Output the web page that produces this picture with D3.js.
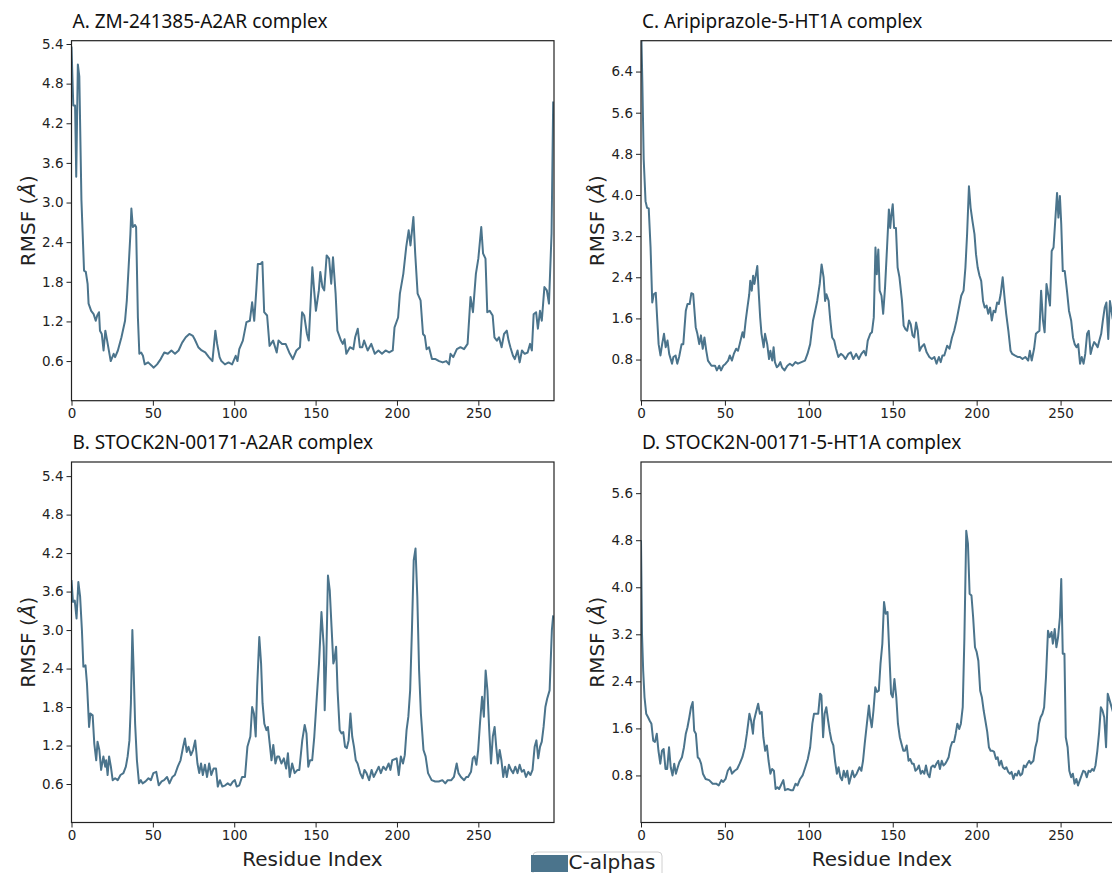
<!DOCTYPE html>
<html>
<head>
<meta charset="utf-8">
<script src="https://cdn.jsdelivr.net/npm/d3@7"></script>
<style>
  body { margin: 0; background: #fff; }
  svg { display: block; }
</style>
</head>
<body>
<div id="chart"></div>
<script>
// residue index / RMSF (Å) pairs
var rmsfA = [[0,5.36],[1.1,4.47],[2.2,4.47],[2.9,3.39],[3.9,5.09],[4.8,4.91],[6.1,3.04],[7.7,1.97],[8.8,1.95],[9.9,1.77],[10.5,1.47],[12.1,1.36],[13.6,1.31],[14.9,1.21],[15.8,1.29],[16.9,1.34],[17.5,1.06],[18.6,1.01],[19.7,0.76],[20.8,1.06],[21.9,0.91],[24.1,0.6],[25.9,0.71],[26.8,0.66],[28.5,0.76],[30.7,0.96],[32.9,1.21],[34,1.52],[35.1,2.02],[36.2,2.53],[36.8,2.91],[37.7,2.63],[39,2.66],[39.7,2.63],[40.8,1.26],[41.7,0.71],[42.8,0.73],[43.9,0.68],[45,0.55],[47.1,0.58],[49.3,0.53],[50.4,0.5],[52.6,0.55],[54.8,0.63],[57,0.73],[59.2,0.71],[61.4,0.76],[63.6,0.71],[65.8,0.76],[68,0.88],[70.2,0.96],[72.4,1.01],[74.6,0.98],[75.7,0.93],[77.9,0.81],[80,0.76],[82.2,0.73],[84.4,0.66],[86.6,0.6],[88.4,1.06],[89.5,0.86],[91,0.66],[92.1,0.6],[94.3,0.55],[96.5,0.58],[98.7,0.55],[100.9,0.68],[102,0.6],[103.1,0.78],[105.3,0.91],[107.5,1.19],[109.6,1.21],[111,1.49],[112.3,1.21],[113.6,1.69],[114.5,2.07],[116.2,2.07],[117.3,2.1],[118.4,1.34],[120.2,1.29],[121.7,0.83],[123.9,0.91],[126.1,0.73],[127.2,0.91],[129.4,0.86],[131.6,0.86],[133.8,0.73],[136,0.63],[138.2,0.76],[140.4,0.81],[141.7,1.34],[143,1.29],[144.7,1.01],[145.8,0.91],[148,2.02],[149.1,1.67],[150.2,1.36],[152,1.67],[152.9,1.95],[154.2,1.72],[155.3,1.67],[156.8,2.2],[158.3,2.15],[159.6,1.77],[160.7,2.17],[162.3,1.62],[163.4,1.06],[165.6,0.91],[166.7,0.86],[167.8,0.93],[168.9,0.71],[171.1,0.81],[173.2,0.78],[174.3,0.96],[175.9,1.09],[177.2,0.81],[178.7,0.81],[179.8,0.91],[182,0.76],[184.2,0.86],[186.4,0.71],[188.6,0.76],[190.8,0.71],[193,0.76],[195.2,0.73],[197.4,0.76],[198.5,1.11],[200.7,1.26],[201.8,1.62],[203.9,1.92],[205.7,2.33],[207.2,2.58],[208.3,2.35],[210.1,2.78],[211.2,2.23],[212.7,1.62],[214.5,1.52],[216,1.01],[217.1,0.98],[218.2,0.78],[219.7,0.81],[221.5,0.63],[223.7,0.63],[225.9,0.6],[228.1,0.58],[230.3,0.6],[232,0.55],[232.9,0.71],[234.6,0.66],[236.8,0.78],[239,0.81],[241.2,0.78],[243.4,0.86],[245.2,1.57],[246.7,1.34],[248.5,1.92],[250,2.15],[251.8,2.63],[252.9,2.23],[254.4,2.15],[255.5,1.34],[257,1.36],[258.8,1.29],[259.9,0.96],[261.4,0.91],[262.7,0.96],[264.3,0.81],[265.8,1.01],[267.5,1.06],[268.6,0.91],[269.7,0.81],[271.3,0.68],[272.4,0.63],[274.1,0.76],[275.4,0.58],[276.8,0.76],[278.5,0.71],[280.3,0.73],[281.8,0.86],[282.9,0.76],[284,1.31],[285.5,1.34],[286.6,1.09],[287.9,1.36],[289,1.21],[290.6,1.72],[292.1,1.67],[293.4,1.47],[295,2.53],[296,4.53]];

var rmsfB = [[0,3.78],[0.9,3.44],[2,3.46],[3.1,3.18],[4.2,3.75],[5.3,3.52],[6.4,3.0],[7.3,2.43],[8.6,2.45],[9.5,2.17],[10.8,1.49],[11.6,1.7],[13,1.67],[14,1.23],[15.2,0.97],[16,1.26],[17.1,1.13],[18.2,0.82],[19.6,1.03],[20.7,0.87],[21.3,0.97],[22.2,0.74],[23.1,1.03],[24.2,0.87],[25.3,0.66],[26.8,0.69],[28.4,0.66],[30.1,0.74],[31.9,0.77],[33.4,0.87],[34.5,1.03],[35.6,1.28],[36.5,1.86],[37.4,3.0],[38.2,2.37],[39.1,1.54],[40.2,0.97],[41.5,0.61],[42.6,0.66],[43.7,0.61],[45.5,0.64],[47.3,0.69],[48.8,0.66],[50.3,0.77],[52.1,0.79],[53.6,0.58],[55.4,0.64],[56.9,0.66],[58.7,0.71],[60.2,0.61],[62,0.71],[63.5,0.74],[65.3,0.87],[67,0.97],[68.6,1.18],[69.7,1.31],[70.8,1.1],[71.9,1.18],[73.4,1.05],[74.7,1.13],[76,1.28],[77.4,0.92],[78.5,0.77],[79.6,0.92],[80.7,0.74],[82,0.9],[83.3,0.71],[84.6,0.92],[85.9,0.74],[87.3,0.84],[88.8,0.84],[89.9,0.56],[91.2,0.66],[92.7,0.56],[94.5,0.58],[96,0.61],[97.6,0.58],[99.3,0.64],[100.4,0.66],[101.5,0.56],[103.1,0.58],[104.8,0.71],[106.6,0.71],[108.1,1.18],[109.9,1.34],[111,1.8],[112.1,1.7],[113.2,1.34],[114.1,2.12],[115.4,2.89],[116.5,2.48],[117.4,1.86],[118.5,1.54],[119.8,1.44],[120.7,1.49],[121.8,1.23],[122.9,0.97],[124,1.21],[125.3,0.92],[126.4,1.03],[127.5,1.03],[129,0.92],[130.5,1.0],[131.9,0.84],[133,1.08],[134.1,0.71],[135.6,0.92],[137.1,0.77],[138.9,0.82],[140,0.82],[141.8,1.28],[143.3,1.52],[144.4,1.39],[145.5,0.87],[146.6,0.97],[147.9,0.97],[149.2,1.34],[150.5,1.86],[152.1,2.48],[153.6,3.28],[155,2.74],[155.6,1.75],[156.5,2.48],[157.6,3.85],[158.7,3.62],[159.8,3.05],[160.9,2.48],[161.5,2.53],[162.6,2.74],[163.5,2.06],[164.8,1.44],[165.9,1.39],[167,1.41],[168.1,1.18],[169.2,1.16],[170.3,1.28],[171.4,1.7],[172.5,1.34],[173.6,1.18],[174.7,0.97],[175.8,0.92],[177.4,0.77],[178.9,0.69],[180,0.82],[181.3,0.77],[182.9,0.66],[184.4,0.82],[185.7,0.71],[187.3,0.79],[188.8,0.87],[190.1,0.77],[191.6,0.87],[193.2,0.82],[194.9,0.92],[196,0.82],[197.1,0.97],[199.8,1.0],[201.1,0.74],[202.4,1.03],[203.7,0.92],[204.8,1.05],[205.9,1.44],[207,1.65],[208.1,2.06],[209.2,3.0],[210.3,4.09],[211.4,4.27],[212.5,3.52],[213.6,2.37],[214.7,1.7],[216.3,1.13],[217.6,1.03],[219.1,0.77],[221.3,0.66],[223.5,0.64],[225.7,0.64],[227.9,0.66],[229.7,0.61],[231.2,0.66],[233.4,0.66],[235,0.71],[236.7,0.92],[237.8,0.77],[239.3,0.71],[241.3,0.66],[242.6,0.71],[243.7,0.71],[245.5,0.79],[246.6,1.0],[247.7,1.03],[248.8,0.9],[249.9,1.13],[251,1.54],[252.3,1.96],[253.4,1.65],[254.5,2.37],[255.6,2.06],[256.7,1.44],[257.8,0.92],[258.9,1.34],[260,1.49],[261,1.18],[262,0.92],[263.1,1.13],[264.2,0.97],[265.3,0.71],[266.4,0.87],[267.5,0.71],[268.8,0.9],[270.1,0.82],[271.4,0.77],[272.7,0.87],[274.1,0.77],[275.4,0.9],[276.7,0.79],[278,0.82],[279.3,0.71],[280.7,0.79],[282,0.74],[283.3,0.82],[284.6,1.18],[285.7,1.28],[286.8,1.0],[287.9,1.18],[289,1.26],[290.1,1.49],[291.2,1.8],[292.3,1.93],[293.8,2.06],[295.2,3.0],[296,3.23]];

var rmsfC = [[0,7.4],[0.8,6.2],[1.6,4.7],[2.7,3.88],[3.6,3.75],[4.6,3.74],[5.7,2.98],[6.7,1.91],[7.6,2.07],[8.8,2.1],[9.7,1.56],[10.5,1.1],[11.6,0.88],[12.6,1.1],[13.7,1.3],[14.7,1.04],[15.8,1.17],[16.8,0.91],[18.5,0.72],[19.3,0.85],[20.6,0.88],[21.6,0.72],[22.7,0.85],[24.2,1.1],[25.2,1.1],[26.7,1.75],[27.7,1.88],[29,1.88],[30,2.09],[31.1,2.07],[32.6,1.43],[33.6,1.3],[34.7,1.1],[35.7,1.27],[36.8,1.01],[37.8,1.23],[38.9,0.97],[39.9,0.78],[42,0.68],[44.1,0.68],[45.2,0.59],[46.6,0.68],[47.7,0.59],[49,0.68],[50.4,0.72],[51.9,0.78],[52.9,0.88],[54.2,0.78],[55.3,0.91],[56.7,1.01],[57.8,0.97],[58.8,1.1],[60.5,1.33],[61.3,1.23],[62.4,1.56],[63.4,1.81],[64.5,2.07],[65.1,2.33],[66,2.14],[66.8,2.43],[67.6,2.27],[68.5,2.46],[69.3,2.62],[70.2,2.07],[71,1.62],[71.8,1.3],[73.1,1.04],[73.9,1.3],[75.2,1.1],[76.3,0.81],[77.1,0.97],[78.2,0.78],[79,1.04],[79.8,0.75],[80.9,0.65],[81.9,0.68],[83,0.75],[84,0.65],[85.5,0.59],[87.2,0.68],[88.7,0.72],[90.3,0.68],[92,0.75],[93.5,0.72],[95.6,0.75],[97.7,0.78],[99.2,0.91],[100.8,1.1],[102.5,1.56],[103.8,1.75],[105,1.94],[106.5,2.27],[107.6,2.65],[108.8,2.4],[109.7,1.94],[110.5,2.07],[111.8,1.94],[112.8,1.56],[113.9,1.23],[115.1,1.17],[116.2,1.01],[117.6,0.85],[119.1,0.91],[120.4,0.88],[121.8,0.81],[123.5,0.91],[125,0.94],[126.5,0.81],[128.2,0.91],[129.8,0.81],[131.3,0.91],[132.8,0.97],[134,0.88],[135.1,1.17],[136.6,1.3],[137.6,1.33],[138.7,1.62],[139.7,2.98],[140.5,2.46],[141.4,2.94],[142.2,2.14],[143.3,2.04],[144.3,1.69],[145.4,2.2],[146.6,2.98],[147.7,3.72],[148.5,3.36],[149.2,3.62],[150,3.82],[150.8,3.36],[151.9,3.36],[152.9,2.59],[154,2.4],[155.5,1.94],[156.5,1.46],[157.6,1.39],[158.6,1.36],[159.7,1.56],[160.7,1.49],[161.8,1.27],[162.8,1.23],[163.9,1.52],[164.9,1.36],[166,0.97],[167,1.04],[168.7,1.1],[170.2,0.94],[171.8,0.85],[173.3,0.81],[174.8,0.85],[176.1,0.72],[177.5,0.85],[178.6,0.75],[179.6,0.88],[180.7,0.88],[182.4,1.07],[183.8,1.01],[185.3,1.23],[186.6,1.36],[188,1.56],[189.1,1.75],[190.8,2.04],[192.2,2.14],[193.3,2.59],[194.3,3.24],[195.4,4.17],[196.4,3.75],[197.5,3.49],[198.7,3.24],[199.6,2.85],[200.6,2.59],[201.7,2.43],[202.7,2.33],[203.8,1.94],[204.8,1.81],[205.9,1.85],[206.9,1.69],[208,1.81],[209,1.56],[210.1,1.75],[211.1,1.72],[212.2,1.91],[213.2,1.88],[214.3,2.07],[215.5,2.4],[216.8,1.94],[217.6,1.69],[218.9,1.36],[220.2,0.97],[221.2,0.91],[222.7,0.88],[224.4,0.85],[225.8,0.85],[227.3,0.81],[229,0.85],[230.7,0.78],[231.7,0.97],[232.8,0.78],[234.2,1.01],[235.3,1.3],[236.3,1.33],[237.4,1.36],[238.4,2.14],[239.5,1.56],[240.5,1.33],[241.6,2.27],[242.6,2.07],[243.7,1.85],[244.7,2.91],[245.8,2.98],[246.8,3.49],[247.9,4.04],[248.7,3.56],[249.6,3.98],[250.4,3.43],[251.3,2.52],[252.5,2.52],[253.8,2.14],[255,1.75],[256.3,1.56],[257.4,1.23],[258.4,1.1],[259.5,1.04],[260.5,1.1],[261.6,0.72],[262.6,0.85],[263.7,0.72],[264.7,0.91],[265.8,1.3],[266.8,1.36],[267.9,0.91],[268.9,1.04],[270,1.14],[271,1.1],[272.1,1.04],[273.1,1.17],[274.2,1.3],[275.2,1.56],[276.3,1.81],[277.3,1.91],[278.4,1.2],[279.4,1.94],[281,1.6],[283,1.4],[285,1.3]];

var rmsfD = [[0,4.8],[0.6,3.2],[1.3,2.58],[2.1,2.13],[3.1,1.85],[4.2,1.79],[5.2,1.73],[6.2,1.68],[7.3,1.39],[8.3,1.37],[9.4,1.51],[10.4,1.22],[11.5,1.0],[12.5,1.22],[13.5,1.25],[14.6,0.91],[15.6,0.91],[16.7,1.28],[17.7,0.94],[18.8,0.8],[19.8,1.0],[20.8,0.83],[21.9,0.94],[22.9,1.03],[24.4,1.11],[25.6,1.28],[26.7,1.51],[27.7,1.62],[28.8,1.79],[29.8,1.96],[30.8,2.05],[31.7,1.56],[32.7,1.51],[33.8,1.11],[34.8,1.08],[35.8,1.0],[36.9,0.83],[38.5,0.74],[40.6,0.72],[42.7,0.66],[44.8,0.66],[46.3,0.63],[47.9,0.72],[49,0.69],[50.4,0.74],[51.7,0.88],[53.1,0.94],[54.2,0.83],[55.8,0.88],[57.3,0.91],[58.8,1.0],[60.4,1.11],[61.9,1.28],[63.1,1.51],[64.6,1.85],[65.6,1.73],[66.7,1.51],[67.3,1.73],[68.3,1.85],[69.8,2.02],[70.8,1.85],[71.9,1.88],[72.9,1.45],[74,1.22],[75,1.31],[76,1.05],[77.1,0.83],[78.1,0.91],[79.2,0.88],[80.2,0.57],[81.3,0.6],[82.3,0.57],[83.3,0.63],[84.8,0.72],[85.8,0.55],[87.5,0.57],[89.2,0.55],[90.6,0.55],[92.1,0.66],[93.3,0.63],[94.8,0.74],[96.3,0.8],[97.9,0.94],[99.4,1.08],[100.8,1.28],[102.1,1.68],[103.1,1.85],[104.2,1.85],[105.6,1.85],[106.7,2.19],[107.5,2.16],[108.5,1.45],[109.4,1.85],[110.4,1.96],[111.5,1.73],[112.5,1.54],[113.5,1.39],[114.6,1.31],[115.6,1.05],[116.7,0.83],[117.7,0.94],[118.8,0.77],[119.8,0.72],[120.8,0.88],[121.9,0.77],[122.9,0.88],[124,0.66],[125,0.77],[126,0.88],[127.1,0.77],[128.5,0.83],[130.2,0.94],[131.3,0.88],[132.3,1.05],[133.3,1.34],[134.6,1.68],[135.8,1.99],[136.5,1.79],[137.5,1.62],[138.5,1.9],[139.6,2.3],[140.6,2.22],[141.7,2.24],[142.7,2.7],[143.8,3.04],[144.8,3.75],[145.8,3.55],[146.9,3.58],[147.9,2.92],[149,2.19],[150,2.13],[151,2.44],[152.1,2.13],[153.1,1.68],[154.2,1.45],[155.2,1.34],[156.3,1.22],[157.3,1.22],[158.3,1.31],[159.4,1.05],[160.4,1.08],[161.5,1.0],[162.5,1.0],[163.5,0.88],[164.6,0.91],[165.6,0.97],[166.7,0.83],[167.7,0.88],[168.8,0.83],[169.8,0.97],[170.8,0.83],[171.9,0.77],[172.9,0.94],[174,0.97],[175,0.94],[176,1.0],[177.1,1.05],[178.1,0.91],[179.2,1.05],[180.2,0.97],[181.3,1.0],[182.3,1.05],[183.3,1.11],[184.4,1.28],[185.4,1.37],[186.5,1.37],[187.5,1.51],[188.5,1.68],[189.6,1.59],[190.6,1.68],[191.7,1.96],[192.7,3.15],[193.8,4.96],[194.8,4.74],[195.8,3.89],[196.9,3.86],[197.9,3.49],[199,2.98],[200,2.9],[201,2.75],[202.1,2.24],[203.1,2.13],[204.2,1.9],[205.2,1.73],[206.3,1.54],[207.3,1.28],[208.3,1.22],[209.4,1.22],[210.4,1.2],[211.5,1.08],[212.5,1.11],[213.5,0.97],[214.6,1.05],[215.6,0.94],[216.7,0.91],[217.7,0.94],[218.8,0.86],[219.8,0.83],[220.8,0.86],[221.9,0.74],[222.9,0.83],[224,0.8],[225,0.88],[226,0.8],[227.1,0.83],[228.1,0.97],[229.2,0.94],[230.2,1.0],[231.3,1.05],[232.3,1.0],[233.8,1.05],[235,1.28],[236,1.39],[237.1,1.68],[238.1,1.79],[239.2,1.85],[240.2,1.96],[241.3,2.47],[242.5,3.26],[243.5,3.15],[244.6,3.24],[245.4,3.04],[246.5,3.29],[247.5,2.98],[248.5,3.15],[249.6,3.49],[250.4,4.14],[251.3,2.87],[252.3,2.87],[253.1,1.45],[254.2,1.28],[255.2,0.88],[256.3,0.77],[257.3,0.83],[258.3,0.66],[259.4,0.74],[260.4,0.63],[261.5,0.72],[262.5,0.8],[263.5,0.88],[264.6,0.86],[265.6,0.77],[266.7,0.88],[267.7,0.86],[268.8,0.91],[269.8,0.88],[270.8,0.97],[271.9,1.22],[272.9,1.51],[274,1.96],[275,1.9],[276,1.79],[277.1,1.28],[278.1,2.19],[280,2.0],[282,1.8],[285,1.5]];

var titles = ["A. ZM-241385-A2AR complex", "B. STOCK2N-00171-A2AR complex",
              "C. Aripiprazole-5-HT1A complex", "D. STOCK2N-00171-5-HT1A complex"];
var ticksA2AR = [0.6, 1.2, 1.8, 2.4, 3.0, 3.6, 4.2, 4.8, 5.4];
var ticksHT1A = [0.8, 1.6, 2.4, 3.2, 4.0, 4.8, 5.6, 6.4];
var ticksX = [0, 50, 100, 150, 200, 250];
var legendLabel = "C-alphas";

var lineColor = "#4b748c";
var W = 1112, H = 873;

var svg = d3.select("#chart").append("svg")
    .attr("width", W)
    .attr("height", H)
    .style("font-family", "'DejaVu Sans', sans-serif");

// panel frames (left, top, width, height) and axis limits
var panels = [
    { title: titles[0], data: rmsfA, left: 71.5, top: 40.7, w: 482.5, h: 360, xMax: 296.5, yMax: 5.45, yTicks: ticksA2AR, xLabel: false },
    { title: titles[1], data: rmsfB, left: 71.5, top: 462, w: 482.5, h: 360.5, xMax: 296.5, yMax: 5.62, yTicks: ticksA2AR, xLabel: true },
    { title: titles[2], data: rmsfC, left: 641, top: 40.7, w: 480, h: 360, xMax: 286, yMax: 7.0, yTicks: ticksHT1A, xLabel: false },
    { title: titles[3], data: rmsfD, left: 641, top: 462, w: 480, h: 360.5, xMax: 286, yMax: 6.13, yTicks: ticksHT1A, xLabel: true }
];

panels.forEach(function(p, idx) {
    var g = svg.append("g").attr("transform", "translate(" + p.left + "," + p.top + ")");

    var x = d3.scaleLinear().domain([0, p.xMax]).range([0, p.w]);
    var y = d3.scaleLinear().domain([0, p.yMax]).range([p.h, 0]);

    g.append("clipPath").attr("id", "clip" + idx)
        .append("rect").attr("width", p.w).attr("height", p.h);

    var line = d3.line().x(d => x(d[0])).y(d => y(d[1]));

    g.append("path")
        .datum(p.data)
        .attr("clip-path", "url(#clip" + idx + ")")
        .attr("d", line)
        .attr("fill", "none")
        .attr("stroke", lineColor)
        .attr("stroke-width", 2)
        .attr("stroke-linejoin", "round");

    // only the ticks that fall inside this panel's y range
    var yTicksIn = p.yTicks.filter(t => t <= p.yMax);

    var yAxis = g.append("g")
        .call(d3.axisLeft(y).tickValues(yTicksIn).tickFormat(d3.format(".1f")).tickSize(5).tickPadding(3));
    var xAxis = g.append("g")
        .attr("transform", "translate(0," + p.h + ")")
        .call(d3.axisBottom(x).tickValues(ticksX).tickFormat(d3.format("d")).tickSize(5).tickPadding(3));

    [yAxis, xAxis].forEach(function(a) {
        a.select(".domain").remove();
        a.selectAll("line").attr("stroke", "#222");
        a.selectAll("text")
            .style("font-family", "'DejaVu Sans', sans-serif")
            .style("font-size", "13.5px")
            .attr("fill", "#222");
    });

    // frame on all four sides
    g.append("rect")
        .attr("width", p.w)
        .attr("height", p.h)
        .attr("fill", "none")
        .attr("stroke", "#222")
        .attr("stroke-width", 1.2);

    g.append("text")
        .attr("x", 1)
        .attr("y", -13)
        .style("font-family", "'Noto Sans', sans-serif")
        .style("font-size", "19px")
        .attr("fill", "#111")
        .text(p.title);

    var yl = g.append("text")
        .attr("transform", "translate(-44," + (p.h / 2) + ") rotate(-90)")
        .attr("text-anchor", "middle")
        .attr("dominant-baseline", "central")
        .style("font-size", "20px")
        .attr("fill", "#222");
    yl.append("tspan").text("RMSF (");
    yl.append("tspan").style("font-style", "italic").text("Å");
    yl.append("tspan").text(")");

    if (p.xLabel) {
        g.append("text")
            .attr("x", 241)
            .attr("y", p.h + 43)
            .attr("text-anchor", "middle")
            .style("font-size", "20px")
            .attr("fill", "#222")
            .text("Residue Index");
    }
});

// legend, cut by the bottom of the figure
var leg = svg.append("g");
leg.append("rect")
    .attr("x", 533).attr("y", 852)
    .attr("width", 129).attr("height", 30)
    .attr("rx", 4)
    .attr("fill", "#fff")
    .attr("stroke", "#d0d0d0");
leg.append("rect")
    .attr("x", 531).attr("y", 855)
    .attr("width", 37).attr("height", 17)
    .attr("fill", lineColor);
leg.append("text")
    .attr("x", 568.5).attr("y", 869)
    .style("font-size", "20px")
    .attr("fill", "#222")
    .text(legendLabel);
</script>
</body>
</html>
